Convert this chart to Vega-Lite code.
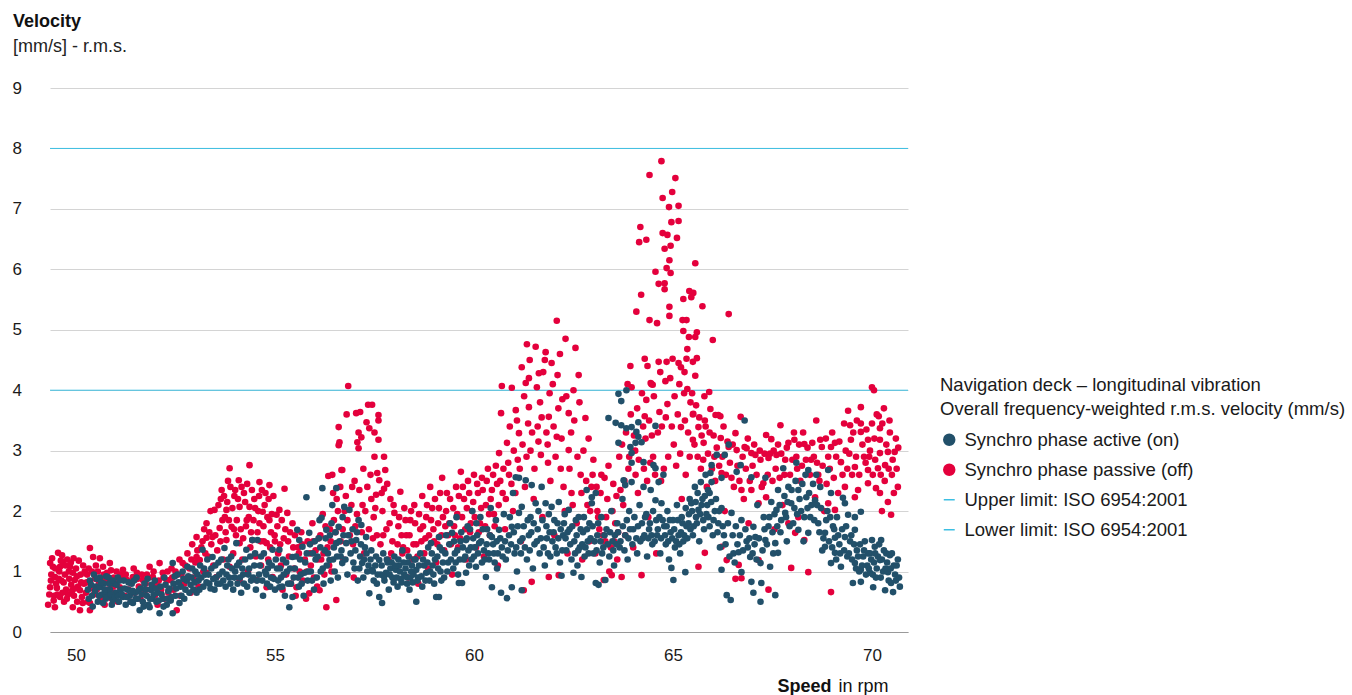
{
"$schema":"https://vega.github.io/schema/vega-lite/v6.json",
"width":858,"height":544,
"autosize":{"type":"none"},
"padding":{"left":50,"top":88,"right":444,"bottom":63},
"config":{"view":{"stroke":null},"font":"Liberation Sans"},
"title":{"text":"Velocity","subtitle":"[mm/s] - r.m.s.","anchor":"start","frame":"group","dx":-37,"offset":23,"fontSize":18,"fontWeight":"bold","color":"#111","subtitleFontSize":18,"subtitleColor":"#222","subtitlePadding":7},
"datasets":{
"lim":[{"series":"Upper limit: ISO 6954:2001","v":8},{"series":"Lower limit: ISO 6954:2001","v":4}],
"off":[
{"x":49.3,"y":0.45},{"x":49.35,"y":1.14},{"x":49.35,"y":0.74},{"x":49.38,"y":0.95},{"x":49.42,"y":1.08},{"x":49.45,"y":0.6},{"x":49.47,"y":0.91},{"x":49.47,"y":0.41},{"x":49.5,"y":0.8},{"x":49.52,"y":0.73},{"x":49.55,"y":1.31},{"x":49.58,"y":1.0},{"x":49.6,"y":1.08},{"x":49.6,"y":0.58},{"x":49.63,"y":0.85},{"x":49.65,"y":1.27},{"x":49.67,"y":1.16},{"x":49.7,"y":0.5},{"x":49.72,"y":0.95},{"x":49.75,"y":0.7},{"x":49.78,"y":1.2},{"x":49.8,"y":0.62},{"x":49.82,"y":1.0},{"x":49.85,"y":1.08},{"x":49.88,"y":0.78},{"x":49.92,"y":0.98},{"x":49.92,"y":0.41},{"x":49.95,"y":0.6},{"x":49.97,"y":0.86},{"x":50.0,"y":1.05},{"x":50.03,"y":0.5},{"x":50.05,"y":0.75},{"x":50.1,"y":0.69},{"x":50.1,"y":0.36},{"x":50.12,"y":0.95},{"x":50.15,"y":0.58},{"x":50.18,"y":1.1},{"x":50.2,"y":0.8},{"x":50.25,"y":0.65},{"x":50.28,"y":0.95},{"x":50.3,"y":0.5},{"x":50.35,"y":1.39},{"x":50.35,"y":0.48},{"x":50.35,"y":0.36},{"x":50.38,"y":0.75},{"x":50.4,"y":1.0},{"x":50.43,"y":1.24},{"x":50.45,"y":0.62},{"x":50.48,"y":0.88},
{"x":50.52,"y":0.7},{"x":50.55,"y":1.0},{"x":50.6,"y":1.22},{"x":50.62,"y":0.55},{"x":50.65,"y":0.85},{"x":50.7,"y":0.95},{"x":50.72,"y":0.45},{"x":50.78,"y":0.98},{"x":50.8,"y":0.7},{"x":50.85,"y":1.14},{"x":50.85,"y":0.81},{"x":50.9,"y":0.55},{"x":50.95,"y":0.9},{"x":50.98,"y":0.65},{"x":51.02,"y":1.0},{"x":51.05,"y":0.5},{"x":51.1,"y":0.74},{"x":51.15,"y":0.9},{"x":51.18,"y":1.03},{"x":51.22,"y":0.6},{"x":51.28,"y":0.86},{"x":51.32,"y":0.7},{"x":51.38,"y":0.5},{"x":51.43,"y":0.91},{"x":51.48,"y":0.65},{"x":51.53,"y":0.98},{"x":51.58,"y":0.75},{"x":51.62,"y":0.55},{"x":51.68,"y":0.86},{"x":51.72,"y":0.65},{"x":51.78,"y":0.95},{"x":51.85,"y":1.08},{"x":51.88,"y":0.7},{"x":51.93,"y":0.91},{"x":51.98,"y":0.6},{"x":52.02,"y":0.8},{"x":52.05,"y":0.45},{"x":52.1,"y":1.14},{"x":52.14,"y":0.7},{"x":52.18,"y":0.98},{"x":52.22,"y":0.55},{"x":52.28,"y":0.85},{"x":52.32,"y":0.65},{"x":52.36,"y":0.86},{"x":52.4,"y":1.05},{"x":52.45,"y":0.7},
{"x":52.53,"y":0.36},{"x":52.55,"y":0.95},{"x":52.6,"y":1.2},{"x":52.62,"y":0.6},{"x":52.68,"y":1.14},{"x":52.72,"y":0.8},{"x":52.78,"y":0.86},{"x":52.8,"y":1.3},{"x":52.85,"y":1.05},{"x":52.88,"y":0.65},{"x":52.92,"y":1.45},{"x":52.95,"y":0.9},{"x":53.0,"y":1.15},{"x":53.03,"y":1.57},{"x":53.03,"y":1.24},{"x":53.08,"y":0.75},{"x":53.11,"y":1.19},{"x":53.15,"y":1.4},{"x":53.2,"y":1.0},{"x":53.22,"y":1.7},{"x":53.28,"y":1.8},{"x":53.28,"y":1.56},{"x":53.28,"y":0.98},{"x":53.32,"y":1.25},{"x":53.38,"y":2.0},{"x":53.43,"y":1.57},{"x":53.45,"y":1.1},{"x":53.48,"y":2.02},
{"x":53.53,"y":0.91},{"x":53.55,"y":1.35},{"x":53.61,"y":1.72},{"x":53.64,"y":2.2},{"x":53.66,"y":2.35},{"x":53.7,"y":1.2},{"x":53.74,"y":1.9},{"x":53.78,"y":2.02},{"x":53.78,"y":1.52},{"x":53.82,"y":2.5},{"x":53.86,"y":2.71},{"x":53.86,"y":1.08},{"x":53.91,"y":1.74},{"x":53.95,"y":1.3},{"x":53.98,"y":2.25},{"x":54.02,"y":1.6},{"x":54.09,"y":2.51},{"x":54.11,"y":2.07},{"x":54.11,"y":1.47},{"x":54.11,"y":0.86},{"x":54.18,"y":1.2},{"x":54.22,"y":2.3},{"x":54.29,"y":1.85},{"x":54.32,"y":1.0},{"x":54.36,"y":2.76},{"x":54.36,"y":2.07},{"x":54.4,"y":1.65},{"x":54.43,"y":1.52},{"x":54.48,"y":2.2},{"x":54.52,"y":1.25},{"x":54.54,"y":0.86},{"x":54.58,"y":2.0},{"x":54.61,"y":2.48},{"x":54.61,"y":1.8},{"x":54.65,"y":1.1},{"x":54.69,"y":1.99},{"x":54.72,"y":1.5},{"x":54.76,"y":2.3},{"x":54.79,"y":1.47},{"x":54.79,"y":0.74},{"x":54.83,"y":1.2},{"x":54.86,"y":2.43},{"x":54.86,"y":1.85},{"x":54.9,"y":1.65},{"x":54.94,"y":0.91},{"x":54.99,"y":1.6},{"x":55.04,"y":1.94},{"x":55.08,"y":1.3},{"x":55.11,"y":2.02},{"x":55.15,"y":1.1},{"x":55.19,"y":0.7},{"x":55.22,"y":1.55},{"x":55.24,"y":2.37},{"x":55.28,"y":0.95},{"x":55.31,"y":1.97},{"x":55.35,"y":1.25},{"x":55.4,"y":0.8},{"x":55.44,"y":1.8},{"x":55.48,"y":1.05},
{"x":55.52,"y":0.6},{"x":55.54,"y":0.74},{"x":55.58,"y":1.4},{"x":55.62,"y":1.0},{"x":55.66,"y":1.65},{"x":55.7,"y":0.85},{"x":55.75,"y":1.2},{"x":55.78,"y":0.55},{"x":55.82,"y":1.5},{"x":55.86,"y":0.64},{"x":55.9,"y":1.1},{"x":55.94,"y":1.8},{"x":55.98,"y":0.9},{"x":56.02,"y":1.35},{"x":56.06,"y":0.75},{"x":56.1,"y":1.55},{"x":56.12,"y":0.69},{"x":56.16,"y":1.2},{"x":56.2,"y":1.95},{"x":56.24,"y":0.95},{"x":56.29,"y":0.41},{"x":56.32,"y":1.4},{"x":56.34,"y":2.58},{"x":56.38,"y":1.7},
{"x":56.42,"y":1.0},{"x":56.44,"y":2.6},{"x":56.48,"y":1.85},{"x":56.54,"y":0.53},{"x":56.55,"y":2.2},{"x":56.6,"y":3.39},{"x":56.6,"y":3.09},{"x":56.62,"y":3.14},{"x":56.65,"y":1.5},{"x":56.67,"y":2.68},{"x":56.69,"y":2.68},{"x":56.72,"y":1.2},{"x":56.75,"y":2.0},{"x":56.8,"y":3.6},{"x":56.84,"y":4.07},{"x":56.88,"y":1.6},{"x":56.94,"y":2.4},{"x":56.98,"y":0.9},{"x":57.02,"y":1.75},{"x":57.04,"y":3.62},{"x":57.07,"y":3.14},{"x":57.1,"y":3.3},{"x":57.1,"y":3.04},{"x":57.14,"y":3.64},{"x":57.17,"y":3.22},{"x":57.2,"y":2.1},{"x":57.24,"y":1.3},{"x":57.3,"y":3.47},{"x":57.34,"y":3.76},{"x":57.37,"y":3.37},{"x":57.4,"y":2.6},{"x":57.44,"y":3.76},{"x":57.48,"y":1.9},{"x":57.5,"y":3.3},{"x":57.5,"y":2.9},{"x":57.54,"y":2.27},{"x":57.57,"y":2.63},{"x":57.6,"y":3.59},{"x":57.6,"y":3.5},{"x":57.6,"y":3.18},{"x":57.62,"y":2.51},{"x":57.65,"y":1.45},{"x":57.7,"y":2.0},{"x":57.74,"y":2.9},{"x":57.74,"y":2.37},{"x":57.77,"y":2.68},{"x":57.8,"y":1.7},{"x":57.85,"y":1.2},{"x":57.9,"y":2.2},{"x":57.95,"y":1.5},{"x":58.0,"y":1.97},{"x":58.05,"y":1.05},{"x":58.1,"y":1.75},{"x":58.15,"y":2.32},{"x":58.2,"y":1.3},{"x":58.25,"y":2.05},
{"x":58.3,"y":1.6},{"x":58.35,"y":0.9},{"x":58.4,"y":1.85},{"x":58.45,"y":1.2},{"x":58.5,"y":2.1},{"x":58.55,"y":1.45},{"x":58.6,"y":0.8},{"x":58.65,"y":1.7},{"x":58.7,"y":2.25},{"x":58.75,"y":1.3},{"x":58.8,"y":1.9},{"x":58.85,"y":1.05},{"x":58.9,"y":2.4},{"x":58.95,"y":2.05},{"x":59.0,"y":1.5},{"x":59.05,"y":1.15},{"x":59.1,"y":1.8},{"x":59.15,"y":2.3},{"x":59.2,"y":2.55},{"x":59.25,"y":1.35},{"x":59.3,"y":2.0},{"x":59.35,"y":1.6},{"x":59.4,"y":2.2},{"x":59.45,"y":0.95},{"x":59.5,"y":1.75},{"x":59.55,"y":2.4},{"x":59.6,"y":1.4},{"x":59.67,"y":2.65},{"x":59.7,"y":1.9},{"x":59.75,"y":2.2},{"x":59.8,"y":1.2},{"x":59.85,"y":2.5},{"x":59.9,"y":1.65},{"x":59.95,"y":2.0},{"x":60.0,"y":2.6},{"x":60.05,"y":1.4},{"x":60.1,"y":2.3},{"x":60.15,"y":1.8},{"x":60.2,"y":2.55},{"x":60.25,"y":1.25},{"x":60.3,"y":2.1},{"x":60.35,"y":2.7},{"x":60.4,"y":1.6},{"x":60.45,"y":2.35},{"x":60.5,"y":1.95},{"x":60.55,"y":2.75},{"x":60.6,"y":1.1},
{"x":60.63,"y":2.96},{"x":60.68,"y":3.62},{"x":60.7,"y":4.07},{"x":60.72,"y":2.3},{"x":60.78,"y":1.7},{"x":60.83,"y":3.13},{"x":60.88,"y":2.6},{"x":60.95,"y":4.04},{"x":60.98,"y":2.0},{"x":61.05,"y":3.67},{"x":61.1,"y":2.85},{"x":61.13,"y":3.29},{"x":61.18,"y":1.5},{"x":61.2,"y":4.38},{"x":61.25,"y":0.69},{"x":61.28,"y":2.4},{"x":61.3,"y":4.12},{"x":61.33,"y":4.76},{"x":61.38,"y":4.2},{"x":61.38,"y":3.72},{"x":61.42,"y":3.0},{"x":61.45,"y":0.83},{"x":61.5,"y":2.2},{"x":61.55,"y":4.72},{"x":61.6,"y":3.4},{"x":61.63,"y":4.28},{"x":61.68,"y":2.93},{"x":61.72,"y":1.9},{"x":61.78,"y":4.5},{"x":61.8,"y":4.63},{"x":61.85,"y":3.1},{"x":61.88,"y":3.56},{"x":61.88,"y":0.91},{"x":61.92,"y":2.5},{"x":61.98,"y":4.1},{"x":62.02,"y":1.6},{"x":62.08,"y":5.15},{"x":62.08,"y":3.23},{"x":62.1,"y":4.25},{"x":62.13,"y":0.94},{"x":62.18,"y":2.7},{"x":62.22,"y":3.85},{"x":62.28,"y":2.0},{"x":62.3,"y":4.85},{"x":62.35,"y":1.3},{"x":62.38,"y":3.62},{"x":62.38,"y":3.01},{"x":62.45,"y":2.3},{"x":62.5,"y":4.0},{"x":62.55,"y":4.7},{"x":62.58,"y":1.8},{"x":62.63,"y":4.25},{"x":62.68,"y":2.6},{"x":62.72,"y":1.2},{"x":62.8,"y":3.54},{"x":62.85,"y":2.1},{"x":62.9,"y":1.5},{"x":62.95,"y":2.4},{"x":63.0,"y":2.85},
{"x":63.05,"y":1.3},{"x":63.1,"y":2.0},{"x":63.15,"y":1.7},{"x":63.2,"y":2.6},{"x":63.26,"y":0.86},{"x":63.3,"y":1.5},{"x":63.35,"y":2.2},{"x":63.4,"y":1.0},{"x":63.46,"y":0.94},{"x":63.5,"y":2.45},{"x":63.55,"y":1.8},{"x":63.6,"y":1.2},{"x":63.65,"y":2.9},{"x":63.71,"y":0.91},{"x":63.75,"y":2.1},{"x":63.8,"y":1.6},{"x":63.86,"y":4.1},{"x":63.93,"y":4.4},{"x":63.88,"y":2.7},
{"x":63.96,"y":4.05},{"x":64.0,"y":1.4},{"x":64.05,"y":3.0},{"x":64.08,"y":5.3},{"x":64.12,"y":2.3},{"x":64.15,"y":6.45},{"x":64.18,"y":6.7},{"x":64.2,"y":5.58},{"x":64.21,"y":0.94},{"x":64.25,"y":3.4},{"x":64.29,"y":4.52},{"x":64.29,"y":3.57},{"x":64.33,"y":6.49},{"x":64.33,"y":3.84},{"x":64.36,"y":4.4},{"x":64.38,"y":1.9},{"x":64.41,"y":7.56},{"x":64.41,"y":5.16},{"x":64.44,"y":4.12},{"x":64.46,"y":4.1},{"x":64.49,"y":4.09},{"x":64.5,"y":2.9},{"x":64.56,"y":5.96},{"x":64.58,"y":1.3},{"x":64.6,"y":5.11},{"x":64.64,"y":5.76},{"x":64.64,"y":4.47},{"x":64.66,"y":3.64},{"x":64.7,"y":2.5},{"x":64.71,"y":7.79},{"x":64.74,"y":7.18},{"x":64.74,"y":6.6},{"x":64.79,"y":6.34},{"x":64.79,"y":5.77},{"x":64.79,"y":5.67},{"x":64.81,"y":4.15},{"x":64.84,"y":6.02},{"x":64.84,"y":4.47},{"x":64.86,"y":6.57},{"x":64.86,"y":3.77},{"x":64.9,"y":7.03},{"x":64.91,"y":6.15},{"x":64.91,"y":5.38},{"x":64.91,"y":5.23},{"x":64.94,"y":6.39},{"x":64.94,"y":5.94},{"x":64.96,"y":6.78},{"x":64.98,"y":7.28},{"x":64.99,"y":4.52},{"x":65.02,"y":3.1},{"x":65.06,"y":7.51},{"x":65.1,"y":6.52},{"x":65.14,"y":7.05},{"x":65.14,"y":6.8},{"x":65.14,"y":4.45},{"x":65.2,"y":4.38},{"x":65.2,"y":3.39},{"x":65.22,"y":2.2},{"x":65.24,"y":5.16},{"x":65.26,"y":5.51},{"x":65.26,"y":4.98},{"x":65.28,"y":3.95},{"x":65.29,"y":4.3},{"x":65.34,"y":5.16},{"x":65.34,"y":4.52},{"x":65.36,"y":4.68},{"x":65.36,"y":4.02},{"x":65.4,"y":4.88},{"x":65.41,"y":5.64},{"x":65.44,"y":3.8},{"x":65.46,"y":5.54},{"x":65.5,"y":4.47},{"x":65.5,"y":3.6},{"x":65.51,"y":5.61},{"x":65.51,"y":3.61},{"x":65.5,"y":3.18},{"x":65.56,"y":6.1},{"x":65.56,"y":4.88},{"x":65.56,"y":4.24},{"x":65.6,"y":4.96},{"x":65.6,"y":4.53},{"x":65.64,"y":3.39},{"x":65.64,"y":1.08},{"x":65.7,"y":2.7},{"x":65.74,"y":5.39},{"x":65.77,"y":3.13},{"x":65.79,"y":3.9},{"x":65.8,"y":3.5},{"x":65.8,"y":1.31},{"x":65.85,"y":2.4},{"x":65.91,"y":3.97},{"x":65.94,"y":3.69},{"x":66.0,"y":4.83},{"x":66.04,"y":2.9},{"x":66.07,"y":3.59},{"x":66.14,"y":3.59},{"x":66.19,"y":3.57},
{"x":66.2,"y":3.21},{"x":66.22,"y":2.63},{"x":66.22,"y":1.41},{"x":66.3,"y":2.0},{"x":66.35,"y":1.19},{"x":66.4,"y":5.26},{"x":66.4,"y":3.06},{"x":66.47,"y":2.55},{"x":66.57,"y":3.29},{"x":66.57,"y":0.88},{"x":66.6,"y":3.01},{"x":66.65,"y":1.11},{"x":66.7,"y":3.56},{"x":66.72,"y":2.35},{"x":66.72,"y":0.89},{"x":66.8,"y":3.06},{"x":66.85,"y":3.04},{"x":66.9,"y":1.8},{"x":66.97,"y":2.96},{"x":66.97,"y":2.35},{"x":67.07,"y":2.93},{"x":67.15,"y":2.13},{"x":67.15,"y":1.19},{"x":67.2,"y":2.85},{"x":67.27,"y":2.46},{"x":67.34,"y":3.26},{"x":67.34,"y":2.23},{"x":67.4,"y":2.88},{"x":67.4,"y":0.7},{"x":67.47,"y":3.19},{"x":67.55,"y":1.7},{"x":67.6,"y":2.93},{"x":67.7,"y":3.42},{"x":67.75,"y":2.1},{"x":67.82,"y":2.85},{"x":67.9,"y":3.13},{"x":67.9,"y":1.8},{"x":67.97,"y":1.06},{"x":68.05,"y":3.18},{"x":68.07,"y":1.64},{"x":68.1,"y":2.9},{"x":68.15,"y":1.9},{"x":68.2,"y":2.5},{"x":68.3,"y":3.11},{"x":68.3,"y":1.52},{"x":68.4,"y":0.99},{"x":68.47,"y":2.85},{"x":68.5,"y":3.13},
{"x":68.57,"y":2.23},{"x":68.6,"y":3.5},{"x":68.65,"y":2.6},{"x":68.7,"y":3.18},{"x":68.74,"y":3.06},{"x":68.8,"y":2.0},{"x":68.9,"y":2.9},{"x":68.9,"y":2.13},{"x":68.97,"y":3.06},{"x":68.97,"y":0.66},{"x":69.07,"y":3.13},{"x":69.07,"y":2.02},{"x":69.15,"y":2.3},{"x":69.22,"y":2.81},{"x":69.3,"y":3.45},{"x":69.32,"y":2.4},{"x":69.4,"y":3.66},{"x":69.45,"y":3.42},{"x":69.47,"y":3.18},{"x":69.5,"y":2.6},{"x":69.57,"y":2.73},{"x":69.57,"y":2.23},{"x":69.65,"y":2.35},{"x":69.72,"y":3.72},{"x":69.72,"y":3.45},{"x":69.72,"y":3.31},{"x":69.8,"y":2.9},{"x":69.9,"y":3.18},{"x":69.9,"y":2.68},{"x":69.9,"y":2.46},{"x":69.95,"y":3.0},{"x":70.0,"y":4.05},{"x":70.0,"y":3.45},{"x":70.05,"y":4.0},{"x":70.1,"y":2.38},{"x":70.15,"y":2.71},{"x":70.17,"y":3.57},{"x":70.2,"y":3.37},{"x":70.2,"y":3.18},{"x":70.2,"y":2.96},{"x":70.2,"y":2.3},{"x":70.25,"y":2.0},{"x":70.3,"y":3.7},{"x":70.33,"y":2.76},{"x":70.4,"y":2.98},{"x":70.4,"y":2.15},{"x":70.45,"y":3.3},{"x":70.48,"y":1.94},{"x":70.5,"y":2.6},{"x":70.57,"y":2.98},{"x":70.6,"y":3.2},{"x":70.65,"y":2.4},
{"x":49.33,"y":0.62},{"x":49.37,"y":0.85},{"x":49.4,"y":1.22},{"x":49.44,"y":0.52},{"x":49.48,"y":1.05},{"x":49.53,"y":0.62},{"x":49.57,"y":0.88},{"x":49.62,"y":1.18},{"x":49.66,"y":0.65},{"x":49.69,"y":0.82},{"x":49.74,"y":1.1},{"x":49.77,"y":0.55},{"x":49.83,"y":0.88},{"x":49.87,"y":1.15},{"x":49.9,"y":0.68},{"x":49.94,"y":1.22},{"x":49.98,"y":0.72},{"x":50.02,"y":0.92},{"x":50.07,"y":1.18},{"x":50.13,"y":0.82},{"x":50.17,"y":0.48},{"x":50.22,"y":1.0},{"x":50.27,"y":0.82},{"x":50.32,"y":1.05},{"x":50.42,"y":0.72},{"x":50.5,"y":1.1},{"x":50.58,"y":0.82},{"x":50.68,"y":1.08},{"x":50.76,"y":0.85},{"x":50.88,"y":1.02},{"x":50.93,"y":0.75},{"x":51.0,"y":0.82},{"x":51.12,"y":0.95},{"x":51.25,"y":0.95},{"x":51.35,"y":0.82},{"x":51.45,"y":1.05},{"x":51.55,"y":0.88},{"x":51.65,"y":0.95},{"x":51.75,"y":0.8},{"x":51.82,"y":0.9},{"x":51.95,"y":1.0},{"x":52.08,"y":0.85},{"x":52.2,"y":0.9},{"x":52.3,"y":1.0},{"x":52.42,"y":0.9},{"x":52.5,"y":1.0},{"x":52.65,"y":0.95},{"x":52.75,"y":1.1},{"x":52.9,"y":1.2},{"x":53.05,"y":1.35},{"x":53.18,"y":1.5},{"x":53.25,"y":1.3},{"x":53.35,"y":1.65},{"x":53.4,"y":1.45},{"x":53.5,"y":1.6},{"x":53.58,"y":2.1},{"x":53.63,"y":1.5},{"x":53.68,"y":1.85},{"x":53.72,"y":2.25},{"x":53.76,"y":1.65},{"x":53.8,"y":2.15},{"x":53.84,"y":1.85},{"x":53.88,"y":2.4},{"x":53.93,"y":2.05},{"x":53.97,"y":1.7},{"x":54.0,"y":2.35},{"x":54.04,"y":1.85},{"x":54.07,"y":2.2},{"x":54.14,"y":1.7},{"x":54.16,"y":2.4},{"x":54.2,"y":1.55},{"x":54.25,"y":2.15},{"x":54.27,"y":1.75},{"x":54.3,"y":2.45},{"x":54.34,"y":1.9},{"x":54.38,"y":1.4},{"x":54.42,"y":2.35},{"x":54.46,"y":1.85},{"x":54.5,"y":2.05},{"x":54.56,"y":1.65},{"x":54.6,"y":2.25},{"x":54.64,"y":1.5},{"x":54.67,"y":2.35},{"x":54.71,"y":1.75},{"x":54.74,"y":2.1},{"x":54.81,"y":1.9},{"x":54.84,"y":2.2},{"x":54.88,"y":1.4},{"x":54.92,"y":1.95},{"x":54.96,"y":2.25},{"x":55.0,"y":1.5},{"x":55.06,"y":1.75},{"x":55.13,"y":1.45},{"x":55.17,"y":1.85},{"x":55.26,"y":1.7},{"x":55.33,"y":1.5},{"x":55.38,"y":1.65},{"x":55.46,"y":1.4},{"x":55.5,"y":1.6},{"x":55.6,"y":1.3},{"x":55.68,"y":1.45},{"x":55.8,"y":1.0},{"x":55.88,"y":1.3},{"x":55.96,"y":1.5},{"x":56.08,"y":1.2},{"x":56.14,"y":1.6},{"x":56.22,"y":1.3},{"x":56.27,"y":1.75},{"x":56.36,"y":1.1},{"x":56.4,"y":1.5},{"x":56.46,"y":2.3},{"x":56.52,"y":1.65},{"x":56.58,"y":2.0},{"x":56.64,"y":2.4},{"x":56.7,"y":1.7},{"x":56.78,"y":2.25},{"x":56.82,"y":1.85},{"x":56.92,"y":2.1},{"x":56.96,"y":1.45},{"x":57.0,"y":2.5},{"x":57.06,"y":1.95},{"x":57.12,"y":2.35},{"x":57.18,"y":1.65},{"x":57.22,"y":2.7},{"x":57.27,"y":2.0},{"x":57.32,"y":2.4},{"x":57.36,"y":1.7},{"x":57.42,"y":2.2},{"x":57.46,"y":1.55},{"x":57.52,"y":2.05},{"x":57.56,"y":1.6},{"x":57.68,"y":2.3},{"x":57.72,"y":1.6},{"x":57.82,"y":2.45},{"x":57.88,"y":1.8},{"x":57.92,"y":1.3},{"x":57.98,"y":2.1},{"x":58.08,"y":1.45},{"x":58.12,"y":1.9},{"x":58.18,"y":1.6},{"x":58.22,"y":1.4},{"x":58.28,"y":1.85},{"x":58.32,"y":1.35},{"x":58.38,"y":1.6},{"x":58.42,"y":2.0},{"x":58.48,"y":1.45},{"x":58.52,"y":1.8},{"x":58.58,"y":1.25},{"x":58.62,"y":1.95},{"x":58.68,"y":1.5},{"x":58.72,"y":1.75},{"x":58.78,"y":1.55},{"x":58.82,"y":2.1},{"x":58.87,"y":1.6},{"x":58.92,"y":1.85},{"x":58.98,"y":1.7},{"x":59.02,"y":2.2},{"x":59.08,"y":1.45},{"x":59.12,"y":2.05},{"x":59.18,"y":1.6},{"x":59.22,"y":1.9},{"x":59.28,"y":1.75},{"x":59.32,"y":2.3},{"x":59.38,"y":1.8},{"x":59.42,"y":1.45},{"x":59.48,"y":2.05},{"x":59.52,"y":1.6},{"x":59.58,"y":1.95},{"x":59.62,"y":2.25},{"x":59.65,"y":1.55},{"x":59.72,"y":2.4},{"x":59.78,"y":1.7},{"x":59.82,"y":2.05},{"x":59.88,"y":2.3},{"x":59.92,"y":1.8},{"x":59.98,"y":2.15},{"x":60.02,"y":1.9},{"x":60.08,"y":2.45},{"x":60.12,"y":1.65},{"x":60.18,"y":2.05},{"x":60.22,"y":2.35},{"x":60.28,"y":1.75},{"x":60.32,"y":2.5},{"x":60.38,"y":1.95},{"x":60.42,"y":2.2},{"x":60.48,"y":2.6},{"x":60.52,"y":1.75},{"x":60.58,"y":2.45},{"x":60.62,"y":2.1},{"x":60.66,"y":2.5},{"x":60.74,"y":2.7},{"x":60.8,"y":2.2},{"x":60.86,"y":2.8},{"x":60.9,"y":3.4},{"x":60.94,"y":2.45},{"x":61.0,"y":3.0},{"x":61.04,"y":2.3},{"x":61.08,"y":3.5},{"x":61.15,"y":2.7},{"x":61.22,"y":3.1},{"x":61.26,"y":3.9},{"x":61.32,"y":2.9},{"x":61.36,"y":3.45},{"x":61.4,"y":4.5},{"x":61.46,"y":3.3},{"x":61.52,"y":2.7},{"x":61.58,"y":4.05},{"x":61.62,"y":3.15},{"x":61.66,"y":3.8},{"x":61.7,"y":3.55},{"x":61.74,"y":4.3},{"x":61.82,"y":3.3},{"x":61.86,"y":2.8},{"x":61.9,"y":3.95},{"x":61.95,"y":4.45},{"x":62.0,"y":3.4},{"x":62.05,"y":2.9},{"x":62.12,"y":3.7},{"x":62.16,"y":4.6},{"x":62.2,"y":3.2},{"x":62.25,"y":2.4},{"x":62.32,"y":3.9},{"x":62.4,"y":2.7},{"x":62.44,"y":3.3},{"x":62.48,"y":2.1},{"x":62.52,"y":3.5},{"x":62.6,"y":2.9},{"x":62.65,"y":3.8},{"x":62.7,"y":2.3},{"x":62.75,"y":3.0},{"x":62.82,"y":2.5},{"x":62.88,"y":3.2},{"x":62.92,"y":2.0},{"x":62.98,"y":2.6},{"x":63.08,"y":2.4},{"x":63.12,"y":1.9},{"x":63.18,"y":2.3},{"x":63.24,"y":1.6},{"x":63.28,"y":2.55},{"x":63.32,"y":1.9},{"x":63.38,"y":2.75},{"x":63.44,"y":1.4},{"x":63.48,"y":2.0},{"x":63.52,"y":1.5},{"x":63.58,"y":2.25},{"x":63.62,"y":1.65},{"x":63.68,"y":2.35},{"x":63.72,"y":3.1},{"x":63.78,"y":2.5},{"x":63.82,"y":3.3},{"x":63.9,"y":2.9},{"x":63.94,"y":3.6},{"x":64.02,"y":3.25},{"x":64.06,"y":2.6},{"x":64.1,"y":3.7},{"x":64.14,"y":2.85},{"x":64.22,"y":3.95},{"x":64.27,"y":2.7},{"x":64.31,"y":3.2},{"x":64.35,"y":2.5},{"x":64.4,"y":3.5},{"x":64.43,"y":2.8},{"x":64.47,"y":3.25},{"x":64.52,"y":3.9},{"x":64.55,"y":2.6},{"x":64.62,"y":3.3},{"x":64.68,"y":4.3},{"x":64.72,"y":3.4},{"x":64.77,"y":2.7},{"x":64.82,"y":3.55},{"x":64.88,"y":2.9},{"x":64.93,"y":4.2},{"x":64.97,"y":3.4},{"x":65.04,"y":3.9},{"x":65.08,"y":2.75},{"x":65.12,"y":3.6},{"x":65.16,"y":4.1},{"x":65.18,"y":2.95},{"x":65.3,"y":3.5},{"x":65.32,"y":2.6},{"x":65.38,"y":3.3},{"x":65.42,"y":2.9},{"x":65.48,"y":3.95},{"x":65.54,"y":3.1},{"x":65.58,"y":3.75},{"x":65.62,"y":2.9},{"x":65.66,"y":3.55},{"x":65.72,"y":3.25},{"x":65.76,"y":2.85},{"x":65.82,"y":3.4},{"x":65.88,"y":2.95},{"x":65.92,"y":3.3},{"x":65.98,"y":2.7},{"x":66.02,"y":3.25},{"x":66.06,"y":2.5},{"x":66.1,"y":3.05},{"x":66.16,"y":2.75},{"x":66.24,"y":2.9},{"x":66.27,"y":3.4},{"x":66.33,"y":2.6},{"x":66.37,"y":3.15},{"x":66.43,"y":2.8},{"x":66.5,"y":3.1},{"x":66.53,"y":2.4},{"x":66.62,"y":2.75},{"x":66.67,"y":2.5},{"x":66.75,"y":2.9},{"x":66.78,"y":2.2},{"x":66.83,"y":2.7},{"x":66.88,"y":3.2},{"x":66.93,"y":2.5},{"x":67.0,"y":2.75},{"x":67.04,"y":3.1},{"x":67.1,"y":2.6},{"x":67.18,"y":3.0},{"x":67.23,"y":2.4},{"x":67.3,"y":2.95},{"x":67.38,"y":2.6},{"x":67.44,"y":2.95},{"x":67.5,"y":2.5},{"x":67.53,"y":3.0},{"x":67.58,"y":2.7},{"x":67.64,"y":3.1},{"x":67.68,"y":2.55},{"x":67.72,"y":2.95},{"x":67.8,"y":2.6},{"x":67.86,"y":3.05},{"x":67.94,"y":2.6},{"x":68.0,"y":2.85},{"x":68.04,"y":3.3},{"x":68.12,"y":2.7},{"x":68.17,"y":3.1},{"x":68.24,"y":2.75},{"x":68.27,"y":3.3},{"x":68.34,"y":2.85},{"x":68.38,"y":3.05},{"x":68.44,"y":2.6},{"x":68.54,"y":2.9},{"x":68.62,"y":2.8},{"x":68.68,"y":2.5},{"x":68.76,"y":2.75},{"x":68.84,"y":3.2},{"x":68.86,"y":2.45},{"x":68.94,"y":2.7},{"x":69.0,"y":3.3},{"x":69.04,"y":2.55},{"x":69.1,"y":2.9},{"x":69.18,"y":3.15},{"x":69.26,"y":2.6},{"x":69.34,"y":3.0},{"x":69.38,"y":2.7},{"x":69.43,"y":2.95},{"x":69.53,"y":3.3},{"x":69.6,"y":2.9},{"x":69.62,"y":3.5},{"x":69.68,"y":2.6},{"x":69.76,"y":3.1},{"x":69.84,"y":2.8},{"x":69.86,"y":3.35},{"x":69.93,"y":2.9},{"x":70.02,"y":2.6},{"x":70.06,"y":3.2},{"x":70.08,"y":2.85},{"x":70.12,"y":3.6},{"x":70.22,"y":2.6},{"x":70.26,"y":3.45},{"x":70.32,"y":2.5},{"x":70.36,"y":3.1},{"x":70.42,"y":2.7},{"x":70.44,"y":3.5},{"x":70.52,"y":2.85},{"x":70.55,"y":2.3},{"x":70.62,"y":2.7},{"x":70.66,"y":3.05}
],
"on":[
{"x":50.3,"y":0.7},{"x":50.35,"y":0.85},{"x":50.4,"y":0.6},{"x":50.45,"y":0.95},{"x":50.5,"y":0.75},{"x":50.55,"y":0.5},{"x":50.6,"y":0.74},{"x":50.6,"y":0.9},{"x":50.65,"y":0.62},{"x":50.7,"y":0.8},{"x":50.75,"y":0.55},{"x":50.78,"y":0.65},{"x":50.82,"y":0.9},{"x":50.85,"y":0.7},{"x":50.9,"y":0.45},{"x":50.93,"y":0.53},{"x":50.95,"y":0.8},{"x":51.0,"y":0.65},{"x":51.05,"y":0.9},{"x":51.08,"y":0.5},{"x":51.12,"y":0.7},{"x":51.18,"y":0.58},{"x":51.2,"y":0.85},{"x":51.25,"y":0.45},{"x":51.3,"y":0.7},{"x":51.35,"y":0.6},{"x":51.4,"y":0.8},{"x":51.43,"y":0.48},{"x":51.48,"y":0.65},{"x":51.52,"y":0.9},{"x":51.55,"y":0.55},{"x":51.6,"y":0.36},{"x":51.62,"y":0.72},{"x":51.68,"y":0.5},{"x":51.72,"y":0.8},{"x":51.78,"y":0.6},{"x":51.82,"y":0.45},{"x":51.85,"y":0.41},{"x":51.88,"y":0.7},{"x":51.92,"y":0.55},{"x":51.98,"y":0.85},{"x":52.02,"y":0.5},{"x":52.05,"y":0.65},{"x":52.1,"y":0.31},{"x":52.12,"y":0.75},{"x":52.18,"y":0.55},{"x":52.22,"y":0.9},{"x":52.28,"y":0.45},{"x":52.32,"y":0.68},{"x":52.38,"y":0.52},{"x":52.43,"y":0.31},{"x":52.43,"y":1.14},{"x":52.45,"y":0.8},
{"x":52.5,"y":0.6},{"x":52.55,"y":0.95},{"x":52.6,"y":0.48},{"x":52.63,"y":0.75},{"x":52.68,"y":1.0},{"x":52.72,"y":0.55},{"x":52.78,"y":0.85},{"x":52.8,"y":1.08},{"x":52.85,"y":0.65},{"x":52.9,"y":0.9},{"x":52.95,"y":0.7},{"x":53.0,"y":1.0},{"x":53.03,"y":0.65},{"x":53.08,"y":0.85},{"x":53.12,"y":1.1},{"x":53.18,"y":1.36},{"x":53.2,"y":0.75},{"x":53.25,"y":0.95},{"x":53.3,"y":1.2},{"x":53.35,"y":0.8},{"x":53.4,"y":1.05},{"x":53.43,"y":1.24},{"x":53.48,"y":0.7},{"x":53.52,"y":0.9},{"x":53.58,"y":1.15},{"x":53.62,"y":0.8},{"x":53.68,"y":1.0},{"x":53.73,"y":1.39},{"x":53.76,"y":0.75},{"x":53.8,"y":1.1},{"x":53.85,"y":0.9},{"x":53.9,"y":1.25},{"x":53.95,"y":0.7},
{"x":54.0,"y":1.0},{"x":54.03,"y":1.47},{"x":54.06,"y":0.8},{"x":54.1,"y":1.15},{"x":54.15,"y":0.65},{"x":54.2,"y":0.95},{"x":54.25,"y":1.2},{"x":54.28,"y":1.36},{"x":54.3,"y":0.75},{"x":54.35,"y":1.05},{"x":54.4,"y":0.85},{"x":54.43,"y":1.52},{"x":54.48,"y":1.1},{"x":54.52,"y":0.7},{"x":54.56,"y":1.52},{"x":54.6,"y":0.95},{"x":54.65,"y":1.25},{"x":54.7,"y":0.6},{"x":54.75,"y":1.0},{"x":54.8,"y":0.8},{"x":54.85,"y":1.15},{"x":54.9,"y":0.9},{"x":54.94,"y":1.36},{"x":55.0,"y":0.7},{"x":55.05,"y":1.05},{"x":55.11,"y":1.36},{"x":55.11,"y":0.74},{"x":55.15,"y":0.9},{"x":55.2,"y":1.2},{"x":55.25,"y":0.6},{"x":55.3,"y":1.0},{"x":55.36,"y":0.41},{"x":55.4,"y":0.8},{"x":55.44,"y":1.24},{"x":55.44,"y":0.58},{"x":55.5,"y":1.05},{"x":55.56,"y":1.69},{"x":55.6,"y":0.75},{"x":55.61,"y":1.52},{"x":55.65,"y":0.95},{"x":55.69,"y":1.41},{"x":55.72,"y":0.6},{"x":55.76,"y":1.15},{"x":55.79,"y":2.23},{"x":55.82,"y":0.85},{"x":55.86,"y":1.64},{"x":55.9,"y":1.0},{"x":55.95,"y":1.3},{"x":55.98,"y":0.7},
{"x":56.02,"y":1.2},{"x":56.05,"y":0.9},{"x":56.1,"y":1.55},{"x":56.12,"y":1.85},{"x":56.15,"y":1.0},{"x":56.17,"y":1.89},{"x":56.19,"y":2.38},{"x":56.22,"y":0.8},{"x":56.25,"y":1.35},{"x":56.29,"y":1.69},{"x":56.3,"y":1.1},{"x":56.37,"y":1.19},{"x":56.4,"y":0.85},{"x":56.42,"y":1.8},{"x":56.44,"y":2.1},{"x":56.48,"y":1.4},{"x":56.5,"y":1.0},{"x":56.54,"y":2.38},{"x":56.54,"y":1.47},{"x":56.58,"y":0.9},{"x":56.6,"y":1.74},{"x":56.65,"y":1.25},{"x":56.69,"y":1.14},{"x":56.72,"y":1.6},{"x":56.74,"y":2.07},{"x":56.79,"y":1.47},{"x":56.82,"y":0.95},{"x":56.87,"y":2.02},{"x":56.9,"y":1.3},{"x":56.95,"y":1.7},{"x":57.0,"y":1.05},{"x":57.04,"y":1.52},{"x":57.08,"y":0.85},{"x":57.1,"y":1.85},{"x":57.14,"y":1.25},{"x":57.17,"y":1.77},{"x":57.19,"y":1.14},{"x":57.22,"y":0.9},{"x":57.26,"y":1.4},{"x":57.29,"y":1.57},{"x":57.32,"y":1.0},{"x":57.37,"y":0.64},{"x":57.4,"y":1.2},{"x":57.44,"y":1.03},{"x":57.48,"y":0.85},
{"x":57.52,"y":1.1},{"x":57.56,"y":0.8},{"x":57.62,"y":1.19},{"x":57.62,"y":0.58},{"x":57.66,"y":0.95},{"x":57.69,"y":0.48},{"x":57.72,"y":1.3},{"x":57.75,"y":0.85},{"x":57.79,"y":0.98},{"x":57.83,"y":1.15},{"x":57.86,"y":0.7},{"x":57.9,"y":1.05},{"x":57.95,"y":0.9},{"x":58.0,"y":1.25},{"x":58.04,"y":1.03},{"x":58.08,"y":0.75},{"x":58.12,"y":1.1},{"x":58.16,"y":0.88},{"x":58.2,"y":1.35},{"x":58.25,"y":0.95},{"x":58.3,"y":0.91},{"x":58.34,"y":1.15},{"x":58.38,"y":0.7},{"x":58.42,"y":1.0},{"x":58.46,"y":0.82},{"x":58.5,"y":1.2},{"x":58.55,"y":1.03},{"x":58.55,"y":0.5},{"x":58.6,"y":0.9},{"x":58.65,"y":1.3},{"x":58.7,"y":0.75},{"x":58.75,"y":1.1},{"x":58.8,"y":0.98},{"x":58.85,"y":1.4},{"x":58.88,"y":0.85},{"x":58.92,"y":1.47},{"x":58.96,"y":1.1},{"x":59.0,"y":0.8},{"x":59.05,"y":0.58},{"x":59.08,"y":1.25},{"x":59.12,"y":1.57},{"x":59.12,"y":0.58},{"x":59.16,"y":1.0},{"x":59.2,"y":1.35},{"x":59.25,"y":0.9},{"x":59.3,"y":1.6},{"x":59.35,"y":1.15},{"x":59.4,"y":1.8},{"x":59.45,"y":1.64},{"x":59.48,"y":1.05},
{"x":59.52,"y":1.3},{"x":59.56,"y":1.9},{"x":59.6,"y":0.95},{"x":59.62,"y":0.81},{"x":59.66,"y":1.5},{"x":59.7,"y":0.81},{"x":59.74,"y":1.2},{"x":59.8,"y":1.52},{"x":59.8,"y":0.98},{"x":59.84,"y":1.75},{"x":59.88,"y":1.1},{"x":59.92,"y":1.4},{"x":59.96,"y":2.0},{"x":60.0,"y":1.25},{"x":60.05,"y":1.08},{"x":60.08,"y":1.6},{"x":60.13,"y":1.47},{"x":60.16,"y":1.9},{"x":60.2,"y":1.15},{"x":60.25,"y":1.35},{"x":60.3,"y":0.91},{"x":60.33,"y":1.7},{"x":60.38,"y":1.2},{"x":60.42,"y":2.05},{"x":60.45,"y":1.57},{"x":60.45,"y":0.74},{"x":60.5,"y":1.3},{"x":60.55,"y":1.85},{"x":60.58,"y":1.05},{"x":60.63,"y":1.69},{"x":60.68,"y":0.65},{"x":60.7,"y":1.4},{"x":60.75,"y":1.95},{"x":60.8,"y":1.2},{"x":60.83,"y":0.56},{"x":60.88,"y":1.6},{"x":60.95,"y":1.74},{"x":60.95,"y":0.74},{"x":60.98,"y":2.3},
{"x":61.02,"y":1.3},{"x":61.05,"y":2.56},{"x":61.08,"y":1.0},{"x":61.13,"y":1.97},{"x":61.13,"y":2.55},{"x":61.16,"y":1.5},{"x":61.2,"y":0.69},{"x":61.2,"y":2.07},{"x":61.25,"y":1.75},{"x":61.3,"y":2.51},{"x":61.33,"y":1.2},{"x":61.38,"y":1.6},{"x":61.42,"y":1.9},{"x":61.45,"y":2.43},{"x":61.48,"y":1.05},{"x":61.52,"y":1.45},{"x":61.55,"y":2.13},{"x":61.6,"y":1.7},{"x":61.65,"y":1.3},{"x":61.7,"y":2.4},{"x":61.72,"y":1.85},{"x":61.78,"y":1.1},{"x":61.8,"y":2.13},{"x":61.83,"y":1.55},{"x":61.88,"y":1.95},{"x":61.92,"y":1.25},{"x":61.95,"y":2.07},{"x":62.0,"y":1.65},{"x":62.05,"y":1.4},{"x":62.1,"y":1.8},{"x":62.13,"y":2.15},{"x":62.16,"y":1.15},{"x":62.2,"y":0.93},{"x":62.24,"y":1.6},{"x":62.28,"y":1.95},{"x":62.32,"y":1.35},{"x":62.38,"y":2.02},{"x":62.4,"y":1.7},{"x":62.45,"y":1.2},{"x":62.5,"y":0.98},{"x":62.52,"y":1.5},{"x":62.56,"y":1.85},{"x":62.6,"y":1.1},{"x":62.63,"y":1.9},{"x":62.66,"y":1.4},{"x":62.7,"y":0.91},{"x":62.74,"y":1.65},{"x":62.78,"y":1.25},{"x":62.83,"y":2.35},{"x":62.86,"y":1.5},{"x":62.9,"y":1.8},{"x":62.96,"y":2.23},{"x":62.96,"y":2.13},{"x":63.0,"y":1.3},{"x":63.06,"y":2.3},{"x":63.06,"y":0.81},{"x":63.1,"y":1.6},{"x":63.13,"y":0.78},{"x":63.16,"y":1.15},{"x":63.2,"y":1.9},{"x":63.25,"y":1.4},{"x":63.3,"y":0.86},{"x":63.33,"y":1.7},{"x":63.38,"y":3.54},{"x":63.4,"y":1.25},{"x":63.45,"y":2.0},{"x":63.48,"y":1.5},
{"x":63.52,"y":1.1},{"x":63.56,"y":3.46},{"x":63.6,"y":1.8},{"x":63.63,"y":3.94},{"x":63.63,"y":3.13},{"x":63.66,"y":1.4},{"x":63.7,"y":3.82},{"x":63.7,"y":3.42},{"x":63.73,"y":2.2},{"x":63.76,"y":2.51},{"x":63.8,"y":2.43},{"x":63.8,"y":1.6},{"x":63.83,"y":4.0},{"x":63.83,"y":3.37},{"x":63.86,"y":1.2},{"x":63.9,"y":2.0},{"x":63.93,"y":3.06},{"x":63.96,"y":3.39},{"x":63.96,"y":2.96},{"x":63.96,"y":2.8},{"x":63.96,"y":2.48},{"x":64.0,"y":1.7},{"x":64.06,"y":3.13},{"x":64.08,"y":3.31},{"x":64.1,"y":1.3},{"x":64.13,"y":3.47},{"x":64.13,"y":3.23},{"x":64.16,"y":2.1},{"x":64.21,"y":3.14},{"x":64.24,"y":1.55},{"x":64.26,"y":2.81},{"x":64.26,"y":2.4},{"x":64.3,"y":1.9},{"x":64.35,"y":1.25},{"x":64.4,"y":1.7},{"x":64.44,"y":2.35},{"x":64.48,"y":1.45},{"x":64.51,"y":2.76},{"x":64.56,"y":3.41},{"x":64.56,"y":2.71},{"x":64.56,"y":2.18},{"x":64.6,"y":1.6},{"x":64.64,"y":2.48},{"x":64.68,"y":1.3},{"x":64.71,"y":2.13},{"x":64.76,"y":2.6},{"x":64.78,"y":1.75},
{"x":64.82,"y":1.45},{"x":64.86,"y":2.0},{"x":64.9,"y":1.2},{"x":64.94,"y":1.65},{"x":64.96,"y":1.06},{"x":65.0,"y":1.85},{"x":65.01,"y":0.86},{"x":65.05,"y":1.4},{"x":65.1,"y":2.1},{"x":65.14,"y":1.6},{"x":65.18,"y":1.3},{"x":65.22,"y":1.9},{"x":65.26,"y":1.5},{"x":65.31,"y":0.99},{"x":65.34,"y":1.75},{"x":65.39,"y":1.8},{"x":65.42,"y":2.2},{"x":65.46,"y":2.13},{"x":65.5,"y":1.6},{"x":65.55,"y":2.4},{"x":65.58,"y":1.9},{"x":65.64,"y":2.02},{"x":65.66,"y":1.5},{"x":65.7,"y":2.48},{"x":65.74,"y":2.2},{"x":65.78,"y":1.7},{"x":65.82,"y":2.6},{"x":65.86,"y":2.1},{"x":65.89,"y":1.9},{"x":65.92,"y":2.3},{"x":65.94,"y":2.63},{"x":65.97,"y":2.76},{"x":65.97,"y":2.48},{"x":66.0,"y":1.6},{"x":66.05,"y":2.0},{"x":66.1,"y":2.93},{"x":66.14,"y":1.8},{"x":66.18,"y":1.4},
{"x":66.22,"y":2.55},{"x":66.22,"y":2.05},{"x":66.22,"y":1.03},{"x":66.28,"y":1.6},{"x":66.3,"y":2.93},{"x":66.35,"y":0.61},{"x":66.4,"y":3.1},{"x":66.45,"y":0.53},{"x":66.47,"y":1.97},{"x":66.52,"y":1.3},{"x":66.6,"y":2.65},{"x":66.65,"y":1.32},{"x":66.7,"y":2.76},{"x":66.72,"y":1.85},{"x":66.72,"y":0.99},{"x":66.8,"y":3.5},{"x":66.85,"y":1.5},{"x":66.94,"y":1.24},{"x":66.97,"y":2.56},{"x":66.97,"y":0.83},{"x":67.02,"y":1.74},{"x":67.02,"y":0.65},{"x":67.07,"y":1.57},{"x":67.12,"y":2.1},{"x":67.2,"y":1.14},{"x":67.2,"y":0.5},{"x":67.22,"y":0.81},{"x":67.28,"y":1.9},{"x":67.32,"y":2.55},{"x":67.32,"y":1.52},{"x":67.4,"y":1.75},{"x":67.44,"y":1.08},{"x":67.47,"y":2.15},{"x":67.52,"y":1.3},{"x":67.57,"y":1.47},{"x":67.57,"y":0.61},{"x":67.6,"y":2.02},{"x":67.64,"y":2.35},{"x":67.64,"y":1.31},{"x":67.7,"y":1.65},{"x":67.77,"y":2.71},{"x":67.82,"y":1.97},{"x":67.86,"y":1.5},{"x":67.9,"y":2.4},{"x":67.97,"y":2.13},{"x":68.02,"y":1.8},{"x":68.1,"y":2.8},{"x":68.15,"y":2.35},{"x":68.15,"y":1.69},{"x":68.22,"y":2.0},{"x":68.28,"y":1.5},{"x":68.35,"y":2.23},{"x":68.4,"y":2.68},{"x":68.4,"y":1.64},{"x":68.45,"y":1.9},
{"x":68.57,"y":2.18},{"x":68.6,"y":2.6},{"x":68.65,"y":1.8},{"x":68.7,"y":2.4},{"x":68.75,"y":1.35},{"x":68.82,"y":1.64},{"x":68.82,"y":1.41},{"x":68.88,"y":2.0},{"x":68.9,"y":2.68},{"x":68.97,"y":2.3},{"x":68.97,"y":1.14},{"x":69.02,"y":1.75},{"x":69.07,"y":1.56},{"x":69.07,"y":1.31},{"x":69.12,"y":1.9},{"x":69.18,"y":1.45},{"x":69.22,"y":1.08},{"x":69.27,"y":2.22},{"x":69.32,"y":2.13},{"x":69.32,"y":1.57},{"x":69.38,"y":1.25},{"x":69.4,"y":1.94},{"x":69.45,"y":1.5},{"x":69.52,"y":0.81},{"x":69.57,"y":1.69},{"x":69.57,"y":1.9},{"x":69.57,"y":1.14},{"x":69.62,"y":1.35},{"x":69.68,"y":1.0},{"x":69.72,"y":1.99},{"x":69.72,"y":1.03},{"x":69.72,"y":0.83},{"x":69.78,"y":1.25},{"x":69.82,"y":1.5},{"x":69.88,"y":1.1},{"x":69.95,"y":0.98},{"x":69.95,"y":1.3},{"x":70.0,"y":1.52},{"x":70.03,"y":0.74},{"x":70.05,"y":1.15},{"x":70.07,"y":1.41},{"x":70.1,"y":0.9},{"x":70.15,"y":1.25},{"x":70.2,"y":1.19},{"x":70.23,"y":1.52},{"x":70.28,"y":1.0},{"x":70.33,"y":0.69},{"x":70.36,"y":1.3},{"x":70.4,"y":0.99},{"x":70.45,"y":1.27},{"x":70.48,"y":0.81},{"x":70.53,"y":0.66},{"x":70.55,"y":1.1},{"x":70.6,"y":0.85},{"x":70.65,"y":1.2},{"x":70.7,"y":0.75},
{"x":50.32,"y":0.55},{"x":50.38,"y":0.78},{"x":50.42,"y":0.42},{"x":50.48,"y":0.68},{"x":50.52,"y":0.88},{"x":50.58,"y":0.6},{"x":50.63,"y":0.82},{"x":50.68,"y":0.48},{"x":50.72,"y":0.7},{"x":50.76,"y":0.92},{"x":50.8,"y":0.58},{"x":50.84,"y":0.8},{"x":50.88,"y":0.62},{"x":50.92,"y":0.85},{"x":50.97,"y":0.58},{"x":51.02,"y":0.78},{"x":51.06,"y":0.6},{"x":51.1,"y":0.85},{"x":51.15,"y":0.62},{"x":51.22,"y":0.72},{"x":51.27,"y":0.58},{"x":51.32,"y":0.82},{"x":51.37,"y":0.5},{"x":51.42,"y":0.68},{"x":51.46,"y":0.85},{"x":51.5,"y":0.55},{"x":51.57,"y":0.68},{"x":51.65,"y":0.62},{"x":51.7,"y":0.42},{"x":51.75,"y":0.7},{"x":51.8,"y":0.88},{"x":51.86,"y":0.55},{"x":51.9,"y":0.78},{"x":51.95,"y":0.62},{"x":52.0,"y":0.72},{"x":52.08,"y":0.52},{"x":52.15,"y":0.62},{"x":52.2,"y":0.42},{"x":52.25,"y":0.78},{"x":52.3,"y":0.55},{"x":52.35,"y":0.72},{"x":52.4,"y":0.58},{"x":52.48,"y":0.92},{"x":52.52,"y":0.72},{"x":52.58,"y":0.82},{"x":52.65,"y":0.6},{"x":52.7,"y":0.88},{"x":52.75,"y":0.7},{"x":52.82,"y":0.92},{"x":52.88,"y":0.78},{"x":52.92,"y":1.05},{"x":52.98,"y":0.82},{"x":53.05,"y":0.95},{"x":53.1,"y":0.7},{"x":53.15,"y":0.9},{"x":53.22,"y":1.05},{"x":53.28,"y":0.82},{"x":53.33,"y":0.95},{"x":53.38,"y":0.72},{"x":53.45,"y":0.88},{"x":53.5,"y":1.1},{"x":53.55,"y":0.8},{"x":53.6,"y":0.95},{"x":53.65,"y":1.2},{"x":53.7,"y":0.85},{"x":53.78,"y":0.95},{"x":53.83,"y":1.2},{"x":53.88,"y":0.8},{"x":53.92,"y":1.05},{"x":53.98,"y":0.9},{"x":54.05,"y":1.1},{"x":54.12,"y":0.9},{"x":54.18,"y":1.05},{"x":54.22,"y":0.8},{"x":54.33,"y":0.95},{"x":54.38,"y":1.25},{"x":54.45,"y":0.9},{"x":54.5,"y":1.3},{"x":54.55,"y":0.85},{"x":54.62,"y":1.1},{"x":54.68,"y":0.85},{"x":54.72,"y":1.3},{"x":54.78,"y":0.95},{"x":54.82,"y":1.05},{"x":54.88,"y":0.75},{"x":54.92,"y":1.1},{"x":54.97,"y":0.88},{"x":55.02,"y":1.2},{"x":55.08,"y":0.85},{"x":55.13,"y":1.05},{"x":55.18,"y":0.75},{"x":55.22,"y":0.95},{"x":55.28,"y":1.15},{"x":55.33,"y":0.8},{"x":55.38,"y":1.05},{"x":55.47,"y":0.9},{"x":55.53,"y":1.25},{"x":55.58,"y":0.9},{"x":55.63,"y":1.2},{"x":55.67,"y":0.8},{"x":55.74,"y":0.98},{"x":55.8,"y":1.3},{"x":55.84,"y":1.0},{"x":55.88,"y":1.45},{"x":55.93,"y":0.85},{"x":56.0,"y":1.5},{"x":56.07,"y":1.25},{"x":56.14,"y":1.4},{"x":56.2,"y":1.05},{"x":56.27,"y":1.55},{"x":56.33,"y":1.3},{"x":56.38,"y":1.6},{"x":56.46,"y":1.2},{"x":56.52,"y":1.65},{"x":56.56,"y":1.25},{"x":56.62,"y":1.5},{"x":56.67,"y":1.35},{"x":56.7,"y":1.9},{"x":56.77,"y":1.2},{"x":56.84,"y":1.6},{"x":56.92,"y":1.5},{"x":56.97,"y":1.15},{"x":57.02,"y":1.35},{"x":57.06,"y":1.65},{"x":57.12,"y":1.05},{"x":57.16,"y":1.45},{"x":57.24,"y":1.2},{"x":57.3,"y":1.3},{"x":57.35,"y":1.1},{"x":57.42,"y":1.35},{"x":57.46,"y":1.0},{"x":57.54,"y":1.25},{"x":57.58,"y":0.95},{"x":57.68,"y":1.1},{"x":57.74,"y":0.92},{"x":57.81,"y":1.2},{"x":57.88,"y":0.95},{"x":57.93,"y":1.15},{"x":57.98,"y":0.82},{"x":58.02,"y":1.1},{"x":58.06,"y":0.9},{"x":58.1,"y":1.2},{"x":58.14,"y":1.0},{"x":58.18,"y":0.82},{"x":58.23,"y":1.15},{"x":58.28,"y":1.05},{"x":58.32,"y":0.8},{"x":58.36,"y":1.25},{"x":58.4,"y":0.9},{"x":58.44,"y":1.1},{"x":58.48,"y":0.95},{"x":58.53,"y":1.2},{"x":58.58,"y":0.85},{"x":58.62,"y":1.1},{"x":58.68,"y":0.92},{"x":58.72,"y":1.2},{"x":58.78,"y":0.85},{"x":58.83,"y":1.15},{"x":58.9,"y":1.0},{"x":58.94,"y":1.3},{"x":58.98,"y":0.95},{"x":59.02,"y":1.2},{"x":59.1,"y":1.05},{"x":59.14,"y":1.4},{"x":59.18,"y":0.85},{"x":59.22,"y":1.15},{"x":59.28,"y":1.3},{"x":59.33,"y":1.0},{"x":59.38,"y":1.45},{"x":59.42,"y":1.2},{"x":59.5,"y":1.5},{"x":59.54,"y":1.15},{"x":59.58,"y":1.35},{"x":59.64,"y":1.2},{"x":59.68,"y":1.65},{"x":59.72,"y":1.4},{"x":59.78,"y":1.25},{"x":59.82,"y":1.55},{"x":59.86,"y":1.35},{"x":59.9,"y":1.7},{"x":59.94,"y":1.2},{"x":59.98,"y":1.55},{"x":60.02,"y":1.4},{"x":60.06,"y":1.8},{"x":60.1,"y":1.3},{"x":60.18,"y":1.5},{"x":60.22,"y":1.7},{"x":60.27,"y":1.2},{"x":60.32,"y":1.45},{"x":60.36,"y":1.3},{"x":60.4,"y":1.6},{"x":60.48,"y":1.45},{"x":60.52,"y":1.15},{"x":60.57,"y":1.5},{"x":60.6,"y":1.3},{"x":60.66,"y":1.55},{"x":60.72,"y":1.25},{"x":60.78,"y":1.5},{"x":60.85,"y":1.35},{"x":60.9,"y":1.9},{"x":60.93,"y":1.45},{"x":61.0,"y":1.65},{"x":61.06,"y":1.4},{"x":61.1,"y":1.75},{"x":61.18,"y":1.3},{"x":61.22,"y":1.55},{"x":61.28,"y":1.4},{"x":61.35,"y":1.85},{"x":61.4,"y":1.35},{"x":61.44,"y":1.65},{"x":61.5,"y":1.8},{"x":61.58,"y":1.5},{"x":61.62,"y":2.0},{"x":61.68,"y":1.55},{"x":61.75,"y":1.4},{"x":61.82,"y":1.75},{"x":61.86,"y":1.3},{"x":61.9,"y":1.65},{"x":61.97,"y":1.5},{"x":62.02,"y":1.85},{"x":62.08,"y":1.3},{"x":62.12,"y":1.55},{"x":62.18,"y":1.7},{"x":62.22,"y":1.35},{"x":62.26,"y":1.8},{"x":62.3,"y":1.55},{"x":62.35,"y":1.65},{"x":62.42,"y":1.45},{"x":62.47,"y":1.75},{"x":62.54,"y":1.3},{"x":62.58,"y":1.6},{"x":62.62,"y":1.35},{"x":62.68,"y":1.7},{"x":62.72,"y":1.45},{"x":62.76,"y":1.9},{"x":62.8,"y":1.4},{"x":62.84,"y":1.7},{"x":62.88,"y":1.3},{"x":62.93,"y":1.55},{"x":62.98,"y":1.75},{"x":63.03,"y":1.5},{"x":63.08,"y":1.35},{"x":63.12,"y":1.8},{"x":63.18,"y":1.5},{"x":63.22,"y":1.3},{"x":63.28,"y":1.6},{"x":63.36,"y":1.45},{"x":63.42,"y":1.65},{"x":63.5,"y":1.35},{"x":63.54,"y":1.6},{"x":63.58,"y":1.45},{"x":63.62,"y":1.65},{"x":63.68,"y":1.5},{"x":63.74,"y":1.75},{"x":63.78,"y":1.35},{"x":63.84,"y":1.85},{"x":63.88,"y":1.55},{"x":63.92,"y":1.7},{"x":63.98,"y":1.45},{"x":64.03,"y":1.9},{"x":64.08,"y":1.55},{"x":64.12,"y":1.75},{"x":64.18,"y":1.5},{"x":64.22,"y":1.8},{"x":64.28,"y":1.6},{"x":64.33,"y":1.95},{"x":64.38,"y":1.55},{"x":64.42,"y":1.8},{"x":64.46,"y":1.6},{"x":64.5,"y":2.0},{"x":64.54,"y":1.5},{"x":64.58,"y":1.85},{"x":64.62,"y":1.7},{"x":64.66,"y":1.9},{"x":64.7,"y":1.55},{"x":64.74,"y":1.85},{"x":64.8,"y":1.6},{"x":64.84,"y":1.75},{"x":64.88,"y":1.5},{"x":64.92,"y":1.85},{"x":64.98,"y":1.55},{"x":65.03,"y":1.7},{"x":65.08,"y":1.5},{"x":65.12,"y":1.85},{"x":65.16,"y":1.45},{"x":65.2,"y":1.65},{"x":65.24,"y":1.8},{"x":65.28,"y":1.6},{"x":65.32,"y":2.05},{"x":65.36,"y":1.55},{"x":65.4,"y":1.95},{"x":65.44,"y":1.7},{"x":65.48,"y":2.0},{"x":65.52,"y":1.75},{"x":65.57,"y":2.15},{"x":65.6,"y":1.8},{"x":65.62,"y":2.3},{"x":65.68,"y":1.95},{"x":65.72,"y":2.1},{"x":65.76,"y":1.85},{"x":65.8,"y":2.25},{"x":65.84,"y":1.95},{"x":65.88,"y":2.35},{"x":65.92,"y":1.75},{"x":65.96,"y":2.15},{"x":66.02,"y":1.85},{"x":66.08,"y":2.2},{"x":66.12,"y":1.65},{"x":66.16,"y":2.0},{"x":66.25,"y":1.75},{"x":66.32,"y":1.45},{"x":66.38,"y":1.8},{"x":66.42,"y":1.25},{"x":66.5,"y":1.6},{"x":66.55,"y":1.15},{"x":66.58,"y":1.75},{"x":66.62,"y":1.45},{"x":66.68,"y":1.6},{"x":66.76,"y":1.35},{"x":66.82,"y":1.7},{"x":66.88,"y":1.4},{"x":66.92,"y":1.55},{"x":67.0,"y":1.3},{"x":67.05,"y":1.45},{"x":67.1,"y":1.2},{"x":67.16,"y":1.55},{"x":67.25,"y":1.35},{"x":67.3,"y":1.7},{"x":67.36,"y":1.45},{"x":67.42,"y":1.9},{"x":67.5,"y":1.65},{"x":67.55,"y":1.95},{"x":67.62,"y":1.75},{"x":67.68,"y":2.1},{"x":67.72,"y":1.85},{"x":67.8,"y":2.25},{"x":67.84,"y":1.9},{"x":67.88,"y":2.15},{"x":67.93,"y":1.75},{"x":67.98,"y":2.35},{"x":68.05,"y":2.05},{"x":68.08,"y":2.5},{"x":68.12,"y":1.95},{"x":68.18,"y":2.2},{"x":68.25,"y":2.45},{"x":68.3,"y":1.9},{"x":68.33,"y":2.6},{"x":68.38,"y":2.05},{"x":68.42,"y":2.3},{"x":68.48,"y":2.1},{"x":68.52,"y":2.45},{"x":68.55,"y":1.85},{"x":68.62,"y":2.1},{"x":68.68,"y":1.65},{"x":68.72,"y":2.05},{"x":68.78,"y":1.55},{"x":68.85,"y":1.85},{"x":68.92,"y":1.5},{"x":68.95,"y":1.9},{"x":69.0,"y":1.4},{"x":69.05,"y":1.7},{"x":69.1,"y":1.2},{"x":69.15,"y":1.6},{"x":69.2,"y":1.3},{"x":69.25,"y":1.7},{"x":69.3,"y":1.35},{"x":69.35,"y":1.75},{"x":69.42,"y":1.3},{"x":69.48,"y":1.6},{"x":69.5,"y":1.2},{"x":69.55,"y":1.45},{"x":69.6,"y":1.05},{"x":69.65,"y":1.25},{"x":69.7,"y":1.45},{"x":69.75,"y":1.1},{"x":69.8,"y":1.35},{"x":69.85,"y":0.95},{"x":69.9,"y":1.3},{"x":69.92,"y":1.05},{"x":69.98,"y":1.2},{"x":70.02,"y":0.95},{"x":70.08,"y":1.3},{"x":70.12,"y":1.05},{"x":70.18,"y":1.45},{"x":70.22,"y":0.9},{"x":70.25,"y":1.2},{"x":70.3,"y":1.35},{"x":70.34,"y":1.05},{"x":70.38,"y":1.15},{"x":70.42,"y":0.85},{"x":70.47,"y":1.05},{"x":70.5,"y":1.3},{"x":70.58,"y":0.95},{"x":70.62,"y":1.1},{"x":70.68,"y":0.9}
]},
"layer":[
{"data":{"name":"lim"},"mark":{"type":"rule","strokeWidth":1},
 "encoding":{
  "y":{"field":"v","type":"quantitative","scale":{"domain":[0,9],"nice":false,"zero":true},
   "axis":{"orient":"left","values":[0,1,2,3,4,5,6,7,8,9],"format":"d","domain":false,"ticks":false,"grid":true,"gridColor":"#d4d4d4","gridWidth":1,"labelAlign":"left","labelPadding":38,"labelFontSize":17,"labelColor":"#1a1a1a","labelBaseline":"middle",
    "title":"Speed","titleAngle":0,"titleFontSize":18,"titleFontWeight":"bold","titleColor":"#111","titleAlign":"left","titleBaseline":"middle","titleX":727,"titleY":598}},
  "color":{"field":"series","type":"nominal",
   "scale":{"domain":["Synchro phase active (on)","Synchro phase passive (off)","Upper limit: ISO 6954:2001","Lower limit: ISO 6954:2001"],"range":["#22506a","#e4003c","#3cbfe2","#3cbfe2"]},
   "legend":{"title":["Navigation deck – longitudinal vibration","Overall frequency-weighted r.m.s. velocity (mm/s)"],"orient":"none","legendX":890,"legendY":288,
    "titleFontSize":18.5,"titleFontWeight":"normal","titleColor":"#1a1a1a","titleLineHeight":24,"titlePadding":12,"titleLimit":500,
    "labelFontSize":18.5,"labelColor":"#1a1a1a","labelOffset":6,"labelLimit":400,"symbolSize":120,"rowPadding":11,"symbolStrokeWidth":1.5,
    "encode":{"symbols":{"update":{"stroke":{"scale":"color","field":"value"}}}}}}
 }},
{"data":{"name":"off"},"mark":{"type":"point","filled":true,"size":44,"opacity":1},
 "encoding":{
  "x":{"field":"x","type":"quantitative","scale":{"domain":[49.347,70.905],"nice":false,"zero":false},
   "axis":{"orient":"bottom","values":[50,55,60,65,70],"grid":false,"ticks":false,"domain":true,"domainColor":"#9a9a9a","domainWidth":1,"labelPadding":15,"labelFontSize":17,"labelColor":"#1a1a1a",
    "title":"in rpm","titleFontSize":18,"titleFontWeight":"normal","titleColor":"#111","titleAlign":"left","titleBaseline":"middle","titleX":788,"titleY":54}},
  "y":{"field":"y","type":"quantitative"},
  "color":{"datum":"Synchro phase passive (off)","type":"nominal"},
  "shape":{"datum":"Synchro phase passive (off)","type":"nominal",
   "scale":{"domain":["Synchro phase active (on)","Synchro phase passive (off)","Upper limit: ISO 6954:2001","Lower limit: ISO 6954:2001"],"range":["circle","circle","stroke","stroke"]},
   "legend":{"title":["Navigation deck – longitudinal vibration","Overall frequency-weighted r.m.s. velocity (mm/s)"],"orient":"none","legendX":890,"legendY":288,
    "titleFontSize":18.5,"titleFontWeight":"normal","titleColor":"#1a1a1a","titleLineHeight":24,"titlePadding":12,"titleLimit":500,
    "labelFontSize":18.5,"labelColor":"#1a1a1a","labelOffset":6,"labelLimit":400,"symbolSize":120,"rowPadding":11,"symbolStrokeWidth":1.5,
    "encode":{"symbols":{"update":{"stroke":{"scale":"color","field":"value"}}}}}}
 }},
{"data":{"name":"on"},"mark":{"type":"point","filled":true,"size":44,"opacity":1},
 "encoding":{
  "x":{"field":"x","type":"quantitative"},
  "y":{"field":"y","type":"quantitative"},
  "color":{"datum":"Synchro phase active (on)","type":"nominal"},
  "shape":{"datum":"Synchro phase active (on)","type":"nominal"}
 }}
]
}
